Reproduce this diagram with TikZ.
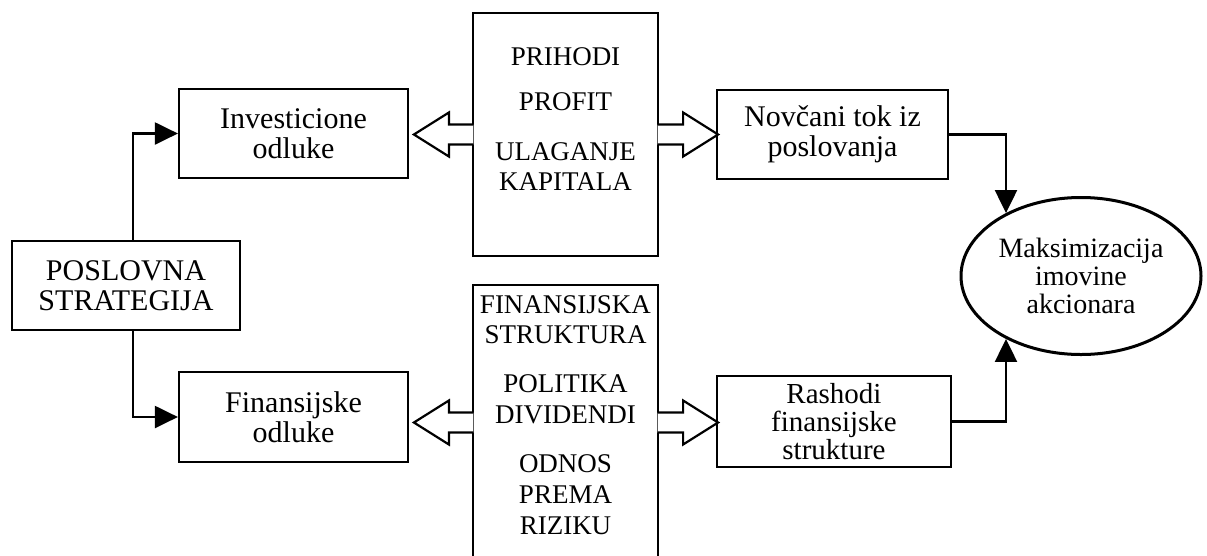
\documentclass[tikz,border=0pt]{standalone}
\usepackage{fontspec}
\setmainfont{Liberation Serif}
\usetikzlibrary{arrows.meta,shapes.geometric,calc}
\begin{document}
\begin{tikzpicture}[x=1pt,y=-1pt,
  box/.style={draw,line width=2.2pt,rectangle,inner sep=0pt,align=center,
    font=\fontsize{30}{30}\selectfont},
  goalshape/.style={draw,ellipse,line width=3pt,inner sep=0pt,align=center,
    font=\fontsize{28}{28}\selectfont},
  midbox/.style={draw,line width=2.2pt,rectangle,inner sep=0pt,
    minimum width=185pt},
  midtext/.style={anchor=base,inner sep=0pt,font=\fontsize{27}{27}\selectfont},
  conn/.style={line width=2.2pt,-{Triangle[length=23pt,width=22pt]}},
  blockarrow/.style={line width=2.2pt,fill=white,line join=miter}]
\useasboundingbox (0,0) rectangle (1207,555);

% decision boxes
\node[box,minimum width=228pt,minimum height=89pt] (strat) at (126,285.5) {POSLOVNA\\STRATEGIJA};
\node[box,minimum width=229pt,minimum height=89pt] (inv) at (293.5,133.5) {Investicione\\odluke};
\node[box,minimum width=229pt,minimum height=90pt] (fin) at (293.5,417) {Finansijske\\odluke};

% central boxes with their key terms
\node[midbox,minimum height=243pt] (tbox) at (565.5,134.5) {};
\node[midbox,minimum height=275pt] (bbox) at (565.5,422.5) {};

\node[midtext] (t1) at (565.5,65) {PRIHODI};
\node[midtext] (t2) at (565.5,110) {PROFIT};
\node[midtext] (t3) at (565.5,160) {ULAGANJE};
\node[midtext] (t4) at (565.5,190) {KAPITALA};

\node[midtext] (b1) at (565.5,313) {FINANSIJSKA};
\node[midtext] (b2) at (565.5,343) {STRUKTURA};
\node[midtext] (b3) at (565.5,392) {POLITIKA};
\node[midtext] (b4) at (565.5,423) {DIVIDENDI};
\node[midtext] (b5) at (565.5,472) {ODNOS};
\node[midtext] (b6) at (565.5,503) {PREMA};
\node[midtext] (b7) at (565.5,534) {RIZIKU};

% outcome boxes
\node[box,minimum width=231pt,minimum height=89pt] (nov) at (832.5,134.5) {Novčani tok iz\\poslovanja};
\node[box,minimum width=234pt,minimum height=91pt,font=\fontsize{29}{28}\selectfont] (ras) at (834,421.5) {Rashodi\\finansijske\\strukture};

% goal
\node[goalshape,minimum width=240pt,minimum height=157pt] (goal) at (1081,276) {Maksimizacija\\imovine\\akcionara};

% connectors from the strategy
\draw[conn] ($(strat.north)+(7,0)$) |- (inv.west);
\draw[conn] ($(strat.south)+(7,0)$) |- (fin.west);

% connectors into the goal
\draw[conn] (nov.east) -| (goal.140);
\draw[conn] (ras.east) -| (goal.220);

% hollow block arrows out of the central boxes
\filldraw[blockarrow] ($(tbox.west)+(1.5,-10)$) -- ++(-24.5,0) -- ++(0,-12) -- ++(-35,22) -- ++(35,22) -- ++(0,-12) -- ++(24.5,0);
\filldraw[blockarrow] ($(tbox.east)+(-1.5,-10)$) -- ++(25.5,0) -- ++(0,-12) -- ++(35,22) -- ++(-35,22) -- ++(0,-12) -- ++(-25.5,0);
\filldraw[blockarrow] ($(bbox.west)+(1.5,-10)$) -- ++(-24.5,0) -- ++(0,-12) -- ++(-35,22) -- ++(35,22) -- ++(0,-12) -- ++(24.5,0);
\filldraw[blockarrow] ($(bbox.east)+(-1.5,-10)$) -- ++(25.5,0) -- ++(0,-12) -- ++(35,22) -- ++(-35,22) -- ++(0,-12) -- ++(-25.5,0);
\end{tikzpicture}
\end{document}
